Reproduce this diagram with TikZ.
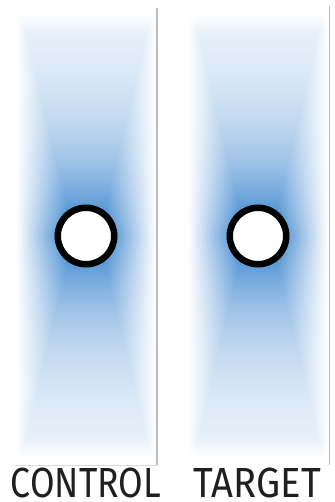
\documentclass[tikz,border=0pt]{standalone}
\usepackage{fontspec}
\setmainfont{Fira Sans}
\usepackage{graphicx}
\definecolor{beam}{RGB}{36,118,200}
\definecolor{framegray}{RGB}{188,188,188}
\definecolor{framelight}{RGB}{218,218,218}
\begin{document}
\begin{tikzpicture}[x=1pt,y=-1pt,
  ring/.style={circle,draw=black,fill=white,line width=6.5pt,inner sep=0pt,minimum size=56.5pt},
  paneltext/.style={inner sep=0pt,anchor=base,text=black!88},
  edgeline/.style={draw=framegray,line width=1.3pt},
  edgelight/.style={draw=framelight,line width=1pt}]
\useasboundingbox (0,0) rectangle (334,502);
\foreach \xc in {86,258}{
  \foreach \d in {0,2,...,220}{
    \pgfmathsetmacro\fd{min(1,(222-\d)/20)}
    \pgfmathsetmacro\tp{100*exp(-\d/90)*\fd}
    \pgfmathsetmacro\aw{12+0.24*\d}
    \colorlet{cc}{beam!\tp!white}
    \foreach \s in {-1,1}{
      \pgfmathsetmacro\ya{236+\s*\d}
      \pgfmathsetmacro\yb{236+\s*(\d+2.5)}
      \shade[left color=white,right color=cc] (\xc-70,\ya) rectangle (\xc-\aw,\yb);
      \shade[left color=cc,right color=white] (\xc+\aw,\ya) rectangle (\xc+70,\yb);
      \fill[cc] (\xc-\aw-0.3,\ya) rectangle (\xc+\aw+0.3,\yb);
    }
  }
}
\draw[edgeline] (157,8) -- (157,465);
\draw[edgelight] (15,465) -- (157,465);
\draw[edgeline] (329.5,6) -- (329.5,465);
\node[ring] (ctlring) at (86,236) {};
\node[ring] (tgtring) at (258,236) {};
\node[paneltext] (ctltext) at (86,497) {\resizebox{150pt}{29.5pt}{CONTROL}};
\node[paneltext] (tgttext) at (257.5,497) {\resizebox{127pt}{29.5pt}{TARGET}};
\end{tikzpicture}
\end{document}
